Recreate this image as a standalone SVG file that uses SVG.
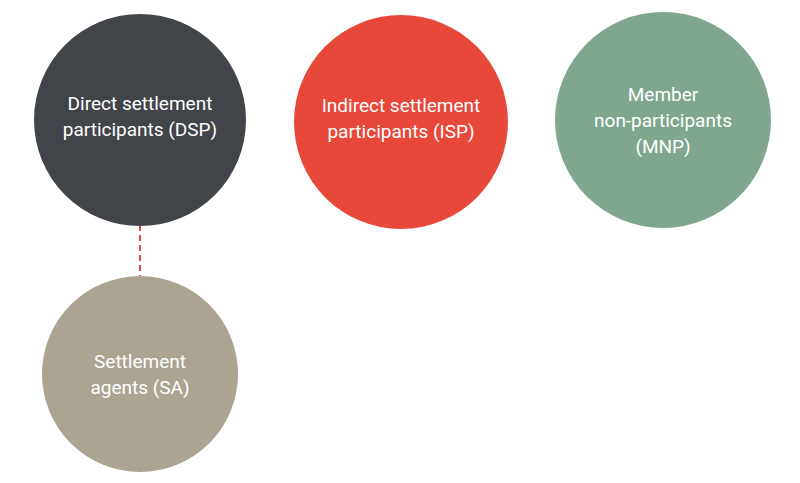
<svg xmlns="http://www.w3.org/2000/svg" width="800" height="483" viewBox="0 0 800 483">
<style>
text{font-family:Roboto,"Liberation Sans",sans-serif;font-size:19px;fill:#fff;text-anchor:middle}
.c{stroke:none}
</style>
<defs><marker id="a" markerWidth="10" markerHeight="10" refX="5" refY="9" orient="auto" markerUnits="userSpaceOnUse" viewBox="0 0 10 10"><path d="M0,0L10,0L5,10Z" fill="#e8483a"/></marker></defs>
<rect width="800" height="483" fill="#fff"/>
<g id="connectors"><path d="M140,225V283" stroke="#e8483a" stroke-width="2" stroke-dasharray="6,4" fill="none" marker-end="url(#a)"/></g>
<g id="dsp"><circle cx="140" cy="120" r="106" fill="#414449"/><text x="140" y="110">Direct settlement</text><text x="140" y="136">participants (DSP)</text></g>
<g id="isp"><circle cx="401" cy="122" r="107" fill="#e8483a"/><text x="401" y="112">Indirect settlement</text><text x="401" y="138">participants (ISP)</text></g>
<g id="mnp"><circle cx="663" cy="120" r="108" fill="#80a690"/><text x="663" y="101">Member</text><text x="663" y="127">non-participants</text><text x="663" y="153">(MNP)</text></g>
<g id="sa"><circle cx="140" cy="374" r="98" fill="#aca493"/><text x="140" y="368">Settlement</text><text x="140" y="394">agents (SA)</text></g>
</svg>
